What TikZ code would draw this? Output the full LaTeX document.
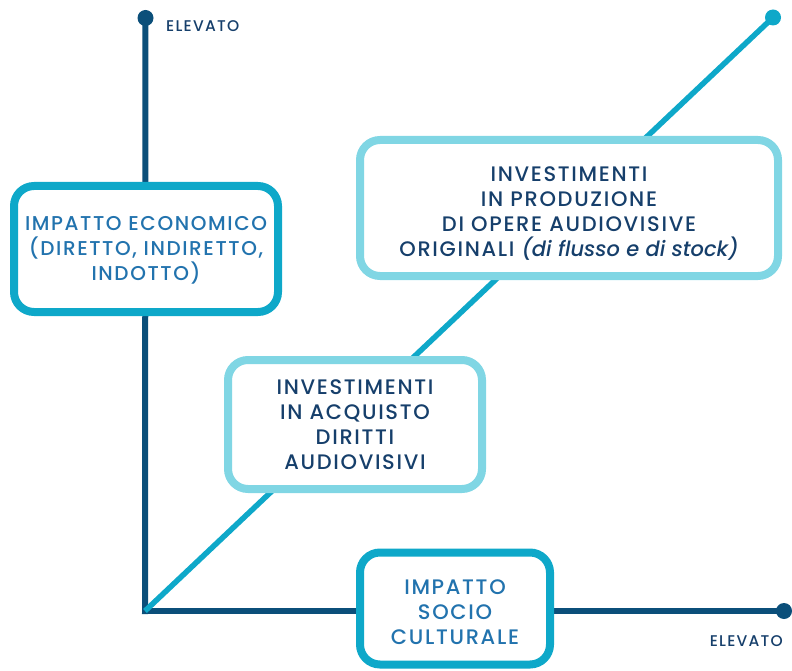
\documentclass[tikz,border=0pt]{standalone}
\usepackage{fontspec}
\setmainfont{Poppins}[UprightFont={* Medium},ItalicFont={* Medium Italic},
	LetterSpace=8,ItalicFeatures={LetterSpace=0}]
\usepackage{tikz}
\usetikzlibrary{positioning}

\definecolor{axisblue}{HTML}{0B4F7A}
\definecolor{diagblue}{HTML}{0EA8C9}
\definecolor{lightbox}{HTML}{80D6E4}
\definecolor{textmid}{HTML}{2273AE}
\definecolor{textdark}{HTML}{163F6B}

\begin{document}
\begin{tikzpicture}[x=1pt,y=-1pt,
	dot/.style={circle,fill,inner sep=0pt,minimum size=16pt},
	impact box/.style={draw=diagblue,line width=8pt,rounded corners=20pt,fill=white,
		align=center,text=textmid,text depth=0pt,font=\fontsize{21}{25}\selectfont},
	invest box/.style={draw=lightbox,line width=8pt,rounded corners=20pt,fill=white,
		align=center,text=textdark,text depth=0pt,font=\fontsize{21}{25}\selectfont},
	level/.style={text=textdark,font=\fontsize{15.5}{16}\selectfont,inner sep=0pt}]
	
	\useasboundingbox (0,0) rectangle (792,671);
	
	\coordinate (o) at (145,611);
	\node[dot,axisblue] (ytop) at (145.5,18) {};
	\node[dot,axisblue] (xend) at (784,611) {};
	\node[dot,diagblue] (dtop) at (773,17.5) {};
	
	\path[line width=6pt,line cap=rect]
	(o) edge [axisblue] (ytop.center)
	(o) edge [axisblue] (xend.center);
	\path[line width=5.5pt]
	(o) edge [diagblue] (dtop.center);
	
	\node[level,anchor=west] (ylab) at (166,26.5) {ELEVATO};
	\node[level,anchor=east] (xlab) at (783,641.5) {ELEVATO};
	
	% text height = twice the drop from centre to last baseline
	\node[impact box,font=\fontsize{20}{25}\selectfont,text height=62pt,
		minimum width=264pt,minimum height=126pt] (econ) at (146,249)
	{IMPATTO ECONOMICO\\(DIRETTO, INDIRETTO,\\INDOTTO)};
	\node[invest box,text height=96pt,minimum width=418pt,minimum height=136pt] (prod) at (569,208)
	{INVESTIMENTI\\IN PRODUZIONE\\DI OPERE AUDIOVISIVE\\ORIGINALI \textit{(di flusso e di stock)}};
	\node[invest box,text height=89.5pt,minimum width=254pt,minimum height=129pt] (diritti) at (355,424.5)
	{INVESTIMENTI\\IN ACQUISTO\\DIRITTI\\AUDIOVISIVI};
	\node[impact box,text height=71.5pt,minimum width=190pt,minimum height=112pt] (socio) at (455,608.5)
	{IMPATTO\\SOCIO\\CULTURALE};
\end{tikzpicture}
\end{document}
